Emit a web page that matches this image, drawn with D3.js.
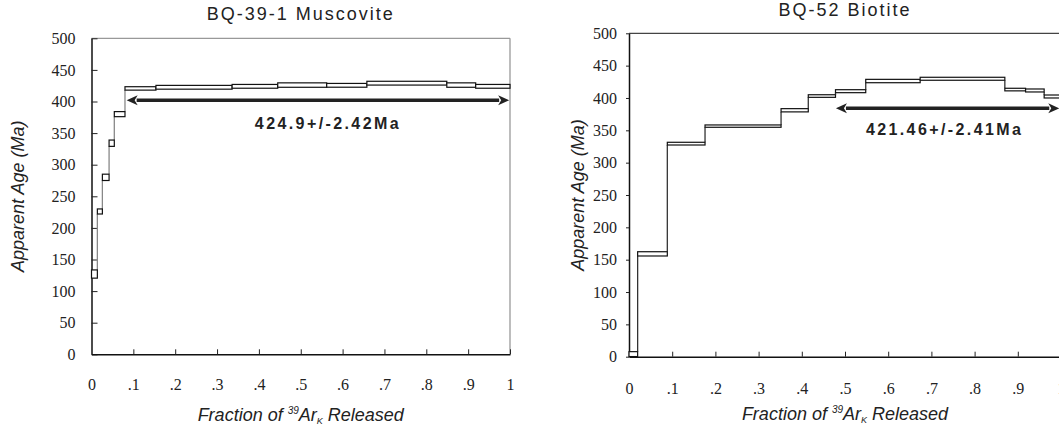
<!DOCTYPE html>
<html>
<head>
<meta charset="utf-8">
<script src="https://cdn.jsdelivr.net/npm/d3@7"></script>
<style>
  body { margin: 0; background: #fff; }
  svg { display: block; }
  .tick text { font-family: "Liberation Serif", "Times New Roman", serif; font-size: 16px; fill: #222; }
</style>
</head>
<body>
<div id="chart"></div>
<script>
// BQ-39-1 muscovite: step boundaries (cumulative 39ArK fraction), ages and errors (Ma)
const muscFrac = [0, 0.014, 0.026, 0.042, 0.0545, 0.080, 0.154, 0.336, 0.445, 0.562, 0.658, 0.849, 0.918, 1];
const muscAge  = [127, 226, 280, 334, 380, 420.7, 422.5, 424, 426, 425.6, 429, 426, 424];
const muscErr  = [6.5, 4, 5, 5, 4, 2.7, 3, 3, 3.5, 3, 3, 3.5, 3];
const muscPlateau = [0.084, 0.998, 402];          // from, to, drawn at age
const muscLabel = "424.9+/-2.42Ma";

// BQ-52 biotite
const bioFrac = [0, 0.020, 0.0887, 0.176, 0.352, 0.415, 0.478, 0.548, 0.674, 0.870, 0.918, 0.961, 1];
const bioAge  = [4, 159, 329.4, 356.5, 381, 403, 410.5, 426.2, 429.7, 413, 411.6, 402.3];
const bioErr  = [3.8, 3.3, 2.1, 1.8, 2.5, 2, 2.3, 2.6, 2.3, 2, 2.3, 2.3];
const bioPlateau = [0.479, 0.996, 384];
const bioLabel = "421.46+/-2.41Ma";

const yTicks = d3.range(0, 501, 50);
const xTicks = d3.range(0, 1.01, 0.1);
const fmtX = d => d === 0 ? "0" : d >= 0.999 ? "1" : "." + Math.round(d * 10);

const width = 1059, height = 426;
const sans = "'Liberation Sans', Arial, sans-serif";
const svg = d3.select("#chart").append("svg")
  .attr("width", width).attr("height", height);

function drawPanel(p) {
  const x = d3.scaleLinear().domain([0, 1]).range([p.left, p.right]);
  const y = d3.scaleLinear().domain([0, 500]).range([p.bottom, p.top]);
  const g = svg.append("g");

  // frame: top and right border
  g.append("line").attr("x1", p.left).attr("x2", p.right).attr("y1", p.top).attr("y2", p.top)
    .attr("stroke", p.frameColor).attr("stroke-width", 1.3);
  g.append("line").attr("x1", p.right).attr("x2", p.right).attr("y1", p.top).attr("y2", p.bottom)
    .attr("stroke", p.frameColor).attr("stroke-width", 1.3);

  // axes
  const yAxis = g.append("g").attr("transform", `translate(${p.left},0)`)
    .call(d3.axisLeft(y).tickValues(yTicks).tickSize(p.yTick).tickSizeOuter(0).tickPadding(p.yPad));
  const xAxis = g.append("g").attr("transform", `translate(0,${p.bottom})`)
    .call(d3.axisBottom(x).tickValues(xTicks).tickFormat(fmtX).tickSize(-5).tickSizeOuter(0).tickPadding(p.xPad));
  [yAxis, xAxis].forEach(a => {
    a.attr("font-family", null).attr("font-size", null);
    a.select(".domain").attr("stroke", "#111").attr("stroke-width", 1.5);
    a.selectAll(".tick line").attr("stroke", "#222");
  });
  xAxis.selectAll(".tick").filter(d => d === 0).select("line").remove();

  // connectors between steps
  const steps = p.ages.map((a, i) => ({ x0: p.frac[i], x1: p.frac[i + 1], lo: a - p.errs[i], hi: a + p.errs[i] }));
  g.append("g").selectAll("line").data(steps.slice(1)).join("line")
    .attr("x1", d => x(d.x0)).attr("x2", d => x(d.x0))
    .attr("y1", (d, i) => y(steps[i].hi > d.hi ? steps[i].lo : steps[i].hi))
    .attr("y2", (d, i) => y(steps[i].hi > d.hi ? d.hi : d.lo))
    .attr("stroke", p.linkColor).attr("stroke-width", 1.3);

  // step boxes
  g.append("g").selectAll("rect").data(steps).join("rect")
    .attr("x", d => x(d.x0)).attr("width", d => x(d.x1) - x(d.x0))
    .attr("y", d => y(d.hi)).attr("height", d => Math.max(2, y(d.lo) - y(d.hi)))
    .attr("fill", "#fff").attr("stroke", "#111").attr("stroke-width", 1.2);

  // plateau arrow
  const [fa, fb, ay] = p.plateau;
  const xs = x(fa), xe = x(fb), yy = y(ay), hl = 11, hw = 5;
  g.append("line").attr("x1", xs + hl - 1).attr("x2", xe - hl + 1).attr("y1", yy).attr("y2", yy)
    .attr("stroke", "#222").attr("stroke-width", 3.5);
  g.append("path").attr("fill", "#222")
    .attr("d", `M${xs},${yy}L${xs + hl},${yy - hw}L${xs + hl - 3},${yy}L${xs + hl},${yy + hw}Z`);
  g.append("path").attr("fill", "#222")
    .attr("d", `M${xe},${yy}L${xe - hl},${yy - hw}L${xe - hl + 3},${yy}L${xe - hl},${yy + hw}Z`);
  g.append("text").attr("x", (xs + xe) / 2 + p.labelDx).attr("y", yy + p.labelDy)
    .attr("text-anchor", "middle").attr("font-family", sans)
    .attr("font-size", 16).attr("font-weight", "bold").attr("letter-spacing", 2.4)
    .attr("fill", "#222").text(p.label);

  // title
  g.append("text").attr("x", (p.left + p.right) / 2).attr("y", p.titleY)
    .attr("text-anchor", "middle").attr("font-family", sans)
    .attr("font-size", 18).attr("letter-spacing", 2).attr("fill", "#222").text(p.title);

  // y axis title
  g.append("text")
    .attr("transform", `translate(${p.yTitleX},${(p.top + p.bottom) / 2}) rotate(-90)`)
    .attr("text-anchor", "middle").attr("font-family", sans)
    .attr("font-size", 18).attr("font-style", "italic").attr("fill", "#222")
    .text("Apparent Age (Ma)");

  // x axis title
  const xt = g.append("text").attr("x", (p.left + p.right) / 2).attr("y", p.xTitleY)
    .attr("text-anchor", "middle").attr("font-family", sans)
    .attr("font-size", 18).attr("font-style", "italic").attr("fill", "#222");
  xt.append("tspan").text("Fraction of ");
  xt.append("tspan").attr("font-size", 10).attr("dy", -7).text("39");
  xt.append("tspan").attr("dy", 7).text("Ar");
  xt.append("tspan").attr("font-size", 9).attr("dy", 2.5).text("K");
  xt.append("tspan").attr("dy", -2.5).text(" Released");
}

drawPanel({
  left: 91.5, right: 510, top: 38.3, bottom: 354.3,
  frac: muscFrac, ages: muscAge, errs: muscErr, plateau: muscPlateau, label: muscLabel,
  title: "BQ-39-1 Muscovite", titleY: 20, yTitleX: 24, xTitleY: 421,
  yTick: -6, yPad: 16, xPad: 24, labelDx: 10, labelDy: 29,
  frameColor: "#999", linkColor: "#888"
});

drawPanel({
  left: 629, right: 1061, top: 33.3, bottom: 356.7,
  frac: bioFrac, ages: bioAge, errs: bioErr, plateau: bioPlateau, label: bioLabel,
  title: "BQ-52 Biotite", titleY: 16, yTitleX: 584, xTitleY: 420,
  yTick: 3, yPad: 9, xPad: 26, labelDx: -3, labelDy: 27,
  frameColor: "#444", linkColor: "#333"
});
</script>
</body>
</html>
